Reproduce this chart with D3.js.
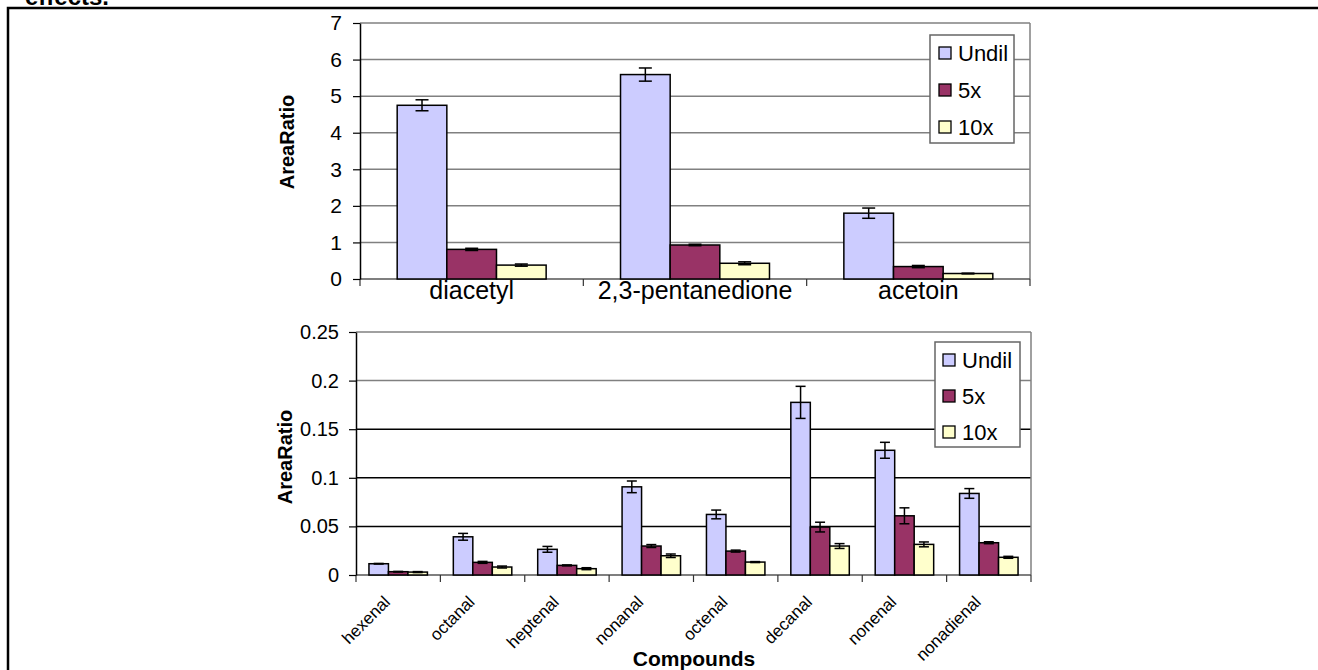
<!DOCTYPE html>
<html>
<head>
<meta charset="utf-8">
<script src="https://cdn.jsdelivr.net/npm/d3@7"></script>
<style>
body { margin: 0; background: #fff; }
svg { display: block; font-family: "Liberation Sans", Arial, sans-serif; }
</style>
</head>
<body>
<svg width="1318" height="670"></svg>
<script>
const series = ["Undil", "5x", "10x"];
const colors = ["#ccccff", "#993366", "#ffffcc"];

// top panel - diketones
const ketones = ["diacetyl", "2,3-pentanedione", "acetoin"];
const ketUndil = [4.75, 5.59, 1.80];
const ketUndilErr = [0.15, 0.18, 0.14];
const ket5x = [0.81, 0.93, 0.34];
const ket5xErr = [0.03, 0.02, 0.03];
const ket10x = [0.38, 0.43, 0.15];
const ket10xErr = [0.03, 0.04, 0.01];
const ketTicks = [0, 1, 2, 3, 4, 5, 6, 7];

// bottom panel - aldehydes
const aldehydes = ["hexenal", "octanal", "heptenal", "nonanal", "octenal", "decanal", "nonenal", "nonadienal"];
const aldUndil = [0.0116, 0.0393, 0.0264, 0.0907, 0.0623, 0.1776, 0.1283, 0.0839];
const aldUndilErr = [0.0003, 0.0035, 0.003, 0.006, 0.0045, 0.0165, 0.0082, 0.005];
const ald5x = [0.0034, 0.013, 0.0099, 0.0298, 0.0246, 0.0493, 0.0609, 0.0332];
const ald5xErr = [0.0003, 0.001, 0.0005, 0.0015, 0.001, 0.005, 0.0082, 0.001];
const ald10x = [0.003, 0.0082, 0.0065, 0.0198, 0.0133, 0.0298, 0.0315, 0.0182];
const ald10xErr = [0.0005, 0.001, 0.001, 0.0018, 0.0005, 0.0025, 0.0025, 0.001];
const aldTicks = [0, 0.05, 0.1, 0.15, 0.2, 0.25];

const svg = d3.select("svg");

// tail of the preceding paragraph + page frame
svg.append("text")
    .attr("x", 25).attr("y", 5)
    .style("font-size", "24px").style("font-weight", "bold")
    .text("effects.");
svg.append("path")
    .attr("d", "M8,672V8H1320")
    .attr("fill", "none").attr("stroke", "#000").attr("stroke-width", 2.5);

function makeRows(cats, vals, errs) {
  return cats.map((c, i) => ({
    cat: c,
    vals: series.map((s, j) => ({s: s, v: vals[j][i], e: errs[j][i], c: colors[j]}))
  }));
}

function drawPanel(p) {
  const g = svg.append("g");
  const x0 = d3.scaleBand().domain(p.cats).range([p.left, p.right])
      .paddingInner(p.pad).paddingOuter(p.pad / 2);
  const x1 = d3.scaleBand().domain(series).range([0, x0.bandwidth()]);
  const y = d3.scaleLinear().domain([0, d3.max(p.ticks)]).range([p.bottom, p.top]);

  // gridlines
  g.selectAll(".grid").data(p.ticks.filter(t => t > 0)).join("line")
      .attr("x1", p.left).attr("x2", p.right)
      .attr("y1", d => y(d)).attr("y2", d => y(d))
      .attr("stroke", p.gridColor).attr("stroke-width", 1.5);
  g.append("line")
      .attr("x1", p.right).attr("x2", p.right).attr("y1", p.top).attr("y2", p.bottom)
      .attr("stroke", "#808080").attr("stroke-width", 1.5);

  // x axis line + ticks at category boundaries
  g.append("line")
      .attr("x1", p.left).attr("x2", p.right).attr("y1", p.bottom).attr("y2", p.bottom)
      .attr("stroke", "#555").attr("stroke-width", 1.5);
  g.selectAll(".xt").data(d3.range(p.cats.length + 1)).join("line")
      .attr("x1", i => p.left + i * x0.step()).attr("x2", i => p.left + i * x0.step())
      .attr("y1", p.bottom).attr("y2", p.bottom + 7)
      .attr("stroke", "#333").attr("stroke-width", 1.2);

  // bars
  const grp = g.selectAll(".grp").data(p.rows).join("g")
      .attr("transform", d => `translate(${x0(d.cat)},0)`);
  grp.selectAll("rect").data(d => d.vals).join("rect")
      .attr("x", d => x1(d.s)).attr("width", x1.bandwidth())
      .attr("y", d => y(d.v)).attr("height", d => y(0) - y(d.v))
      .attr("fill", d => d.c).attr("stroke", "#000").attr("stroke-width", 1.5);

  // error bars
  const eb = grp.selectAll(".eb").data(d => d.vals).join("g");
  eb.append("line")
      .attr("x1", d => x1(d.s) + x1.bandwidth() / 2).attr("x2", d => x1(d.s) + x1.bandwidth() / 2)
      .attr("y1", d => y(d.v - d.e)).attr("y2", d => y(d.v + d.e));
  [1, -1].forEach(sign => {
    eb.append("line")
        .attr("x1", d => x1(d.s) + x1.bandwidth() / 2 - p.cap)
        .attr("x2", d => x1(d.s) + x1.bandwidth() / 2 + p.cap)
        .attr("y1", d => y(d.v + sign * d.e)).attr("y2", d => y(d.v + sign * d.e));
  });
  eb.selectAll("line").attr("stroke", "#000").attr("stroke-width", 1.5);

  // y axis
  const ya = g.append("g").attr("transform", `translate(${p.left},0)`)
      .call(d3.axisLeft(y).tickValues(p.ticks).tickSize(7).tickSizeOuter(0)
        .tickPadding(p.tickPad).tickFormat(d3.format("")));
  ya.select(".domain").attr("stroke", "#000").attr("stroke-width", 1.5);
  ya.selectAll(".tick line").attr("stroke", "#000").attr("stroke-width", 1.2);
  ya.selectAll(".tick text").attr("fill", "#000").style("font-size", p.tickFont)
      .style("font-family", "'Liberation Sans', Arial, sans-serif");

  // category labels
  if (p.rotate) {
    g.selectAll(".cl").data(p.cats).join("text")
        .attr("transform", d => `translate(${x0(d) + x0.bandwidth() / 2 - 7},603) rotate(-45)`)
        .attr("text-anchor", "end").style("font-size", "17px").text(d => d);
  } else {
    g.selectAll(".cl").data(p.cats).join("text")
        .attr("x", d => x0(d) + x0.bandwidth() / 2).attr("y", p.bottom + 20)
        .attr("text-anchor", "middle").style("font-size", "25px").text(d => d);
  }

  // y title
  g.append("text")
      .attr("transform", `translate(${p.titleX},${p.titleY}) rotate(-90)`)
      .attr("text-anchor", "middle").attr("dy", "0.35em")
      .style("font-size", "20px").style("font-weight", "bold").text("AreaRatio");

  // legend
  const lg = g.append("g").attr("transform", `translate(${p.legend[0]},${p.legend[1]})`);
  lg.append("rect").attr("width", p.legend[2]).attr("height", p.legend[3])
      .attr("fill", "#fff").attr("stroke", "#666").attr("stroke-width", 1.5);
  series.forEach((s, j) => {
    const cy = p.legendY0 + j * p.legendStep;
    lg.append("rect").attr("x", p.swX).attr("y", cy - 6).attr("width", 12).attr("height", 12)
        .attr("fill", colors[j]).attr("stroke", "#000").attr("stroke-width", 1.3);
    lg.append("text").attr("x", p.swX + 19).attr("y", cy).attr("dy", "0.35em")
        .style("font-size", "22px").text(s);
  });
}

drawPanel({
  cats: ketones,
  rows: makeRows(ketones, [ketUndil, ket5x, ket10x], [ketUndilErr, ket5xErr, ket10xErr]),
  ticks: ketTicks,
  left: 360, right: 1030, top: 23, bottom: 279,
  pad: 0.333, cap: 6.5, tickPad: 11, tickFont: "21px",
  gridColor: "#808080",
  rotate: false,
  titleX: 287, titleY: 142,
  legend: [930, 35, 84, 108], legendY0: 18, legendStep: 37, swX: 9
});

drawPanel({
  cats: aldehydes,
  rows: makeRows(aldehydes, [aldUndil, ald5x, ald10x], [aldUndilErr, ald5xErr, ald10xErr]),
  ticks: aldTicks,
  left: 356, right: 1031, top: 332, bottom: 575,
  pad: 0.307, cap: 5, tickPad: 10, tickFont: "20px",
  gridColor: d => (d >= 0.2 ? "#808080" : "#000"),
  rotate: true,
  titleX: 285, titleY: 457,
  legend: [935, 342, 85, 105], legendY0: 18, legendStep: 36, swX: 8
});

svg.append("text")
    .attr("x", 694).attr("y", 666)
    .attr("text-anchor", "middle")
    .style("font-size", "21px").style("font-weight", "bold")
    .text("Compounds");
</script>
</body>
</html>
